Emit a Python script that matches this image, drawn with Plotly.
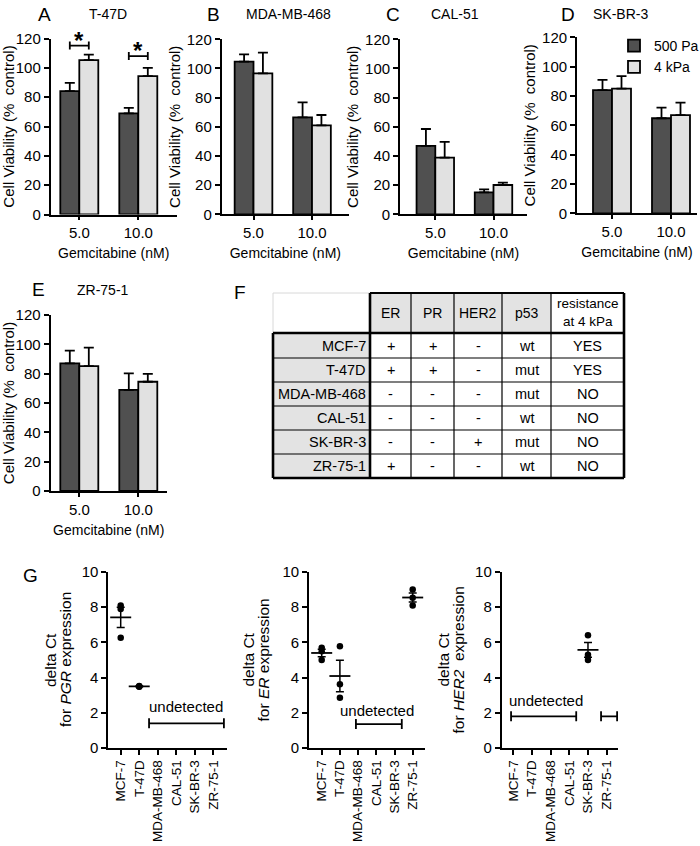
import plotly.graph_objects as go

W, H = 700, 846
FONT = "Liberation Sans, Arial, sans-serif"

# ---------------- data: panels A-E (cell viability, % control) ----------------
doses = ["5.0", "10.0"]
series_names = ["500 Pa", "4 kPa"]

t47d_500 = [84.1, 68.9]
t47d_500_err = [5.7, 3.8]
t47d_4k = [105.2, 94.3]
t47d_4k_err = [3.8, 5.7]

mda_500 = [104.7, 66.5]
mda_500_err = [5.0, 10.3]
mda_4k = [96.7, 61.0]
mda_4k_err = [14.2, 7.1]

cal_500 = [46.9, 15.1]
cal_500_err = [11.6, 2.0]
cal_4k = [38.9, 20.1]
cal_4k_err = [10.7, 1.6]

skbr_500 = [84.0, 64.8]
skbr_500_err = [7.0, 7.2]
skbr_4k = [85.0, 67.0]
skbr_4k_err = [8.5, 8.5]

zr_500 = [87.0, 68.9]
zr_500_err = [8.7, 11.3]
zr_4k = [85.2, 74.5]
zr_4k_err = [12.5, 5.3]

# significance in T-47D
sig_dose_idx = [0, 1]
sig_level = [115.2, 108.0]
sig_text = ["*", "*"]

# ---------------- data: panel F (table) ----------------
table_header = ["", "ER", "PR", "HER2", "p53", "resistance<br>at 4 kPa"]
table_lines = ["MCF-7", "T-47D", "MDA-MB-468", "CAL-51", "SK-BR-3", "ZR-75-1"]
table_er = ["+", "+", "-", "-", "-", "+"]
table_pr = ["+", "+", "-", "-", "-", "-"]
table_her2 = ["-", "-", "-", "-", "+", "-"]
table_p53 = ["wt", "mut", "mut", "wt", "mut", "wt"]
table_res = ["YES", "YES", "NO", "NO", "NO", "NO"]

# ---------------- data: panel G (delta Ct) ----------------
cell_lines = ["MCF-7", "T-47D", "MDA-MB-468", "CAL-51", "SK-BR-3", "ZR-75-1"]

pgr_lines = ["MCF-7", "T-47D"]
pgr_values = [[8.1, 7.9, 6.27], [3.48, 3.5, 3.52]]
pgr_mean = [7.42, 3.5]
pgr_sem = [0.58, 0.02]
pgr_undetected = [[1.53, 5.57]]
pgr_undetected_level = 1.4

er_lines = ["MCF-7", "T-47D", "ZR-75-1"]
er_values = [[5.7, 5.5, 5.0], [5.78, 3.62, 2.86], [9.0, 8.54, 8.1]]
er_mean = [5.4, 4.09, 8.55]
er_sem = [0.21, 0.9, 0.26]
er_undetected = [[1.88, 4.40]]
er_undetected_level = 1.36

her2_lines = ["SK-BR-3"]
her2_values = [[6.4, 5.3, 5.0]]
her2_mean = [5.57]
her2_sem = [0.42]
her2_undetected = [[-0.12, 3.37], [4.70, 5.56]]
her2_undetected_level = 1.8

# ---------------- figure ----------------
DARK = "#505050"
LIGHT = "#e1e1e1"

fig = go.Figure()
layout = dict(
    width=W, height=H, autosize=False,
    margin=dict(l=0, r=0, t=0, b=0, autoexpand=False),
    paper_bgcolor="white", plot_bgcolor="white",
    font=dict(family=FONT, color="black", size=14),
    barmode="group", bargap=0.356, bargroupgap=0,
    showlegend=True,
    legend=dict(x=614 / W, y=1 - 30 / H, xanchor="left", yanchor="top",
                bgcolor="rgba(0,0,0,0)", font=dict(size=14), tracegroupgap=0,
                itemwidth=30),
)
annotations = []
shapes = []


def px_x(p):
    return p / W


def px_y(p):
    return 1 - p / H


bar_panels = [
    (1, "A", "T-47D", t47d_500, t47d_500_err, t47d_4k, t47d_4k_err, (50.7, 176.7), (38.5, 214.5), (79.3, 138.3)),
    (2, "B", "MDA-MB-468", mda_500, mda_500_err, mda_4k, mda_4k_err, (221.7, 349), (39.3, 214.3), (253.5, 312.0)),
    (3, "C", "CAL-51", cal_500, cal_500_err, cal_4k, cal_4k_err, (400, 527), (39.3, 214.3), (435.3, 493.5)),
    (4, "D", "SK-BR-3", skbr_500, skbr_500_err, skbr_4k, skbr_4k_err, (577, 697), (37.3, 213.3), (612.0, 671.0)),
    (5, "E", "ZR-75-1", zr_500, zr_500_err, zr_4k, zr_4k_err, (50.5, 167), (315, 491), (79.3, 138.3)),
]
letter_pos = {"A": (45, 14, 108, 14), "B": (213, 14, 288, 14), "C": (393, 14, 455, 14),
              "D": (568, 14, 620, 14), "E": (38, 290, 103, 290)}

for n, letter, name, d5, e5, d4, e4, xpx, ypx, cpx in bar_panels:
    unit = cpx[1] - cpx[0]
    xr = [(xpx[0] - cpx[0]) / unit, (xpx[1] - cpx[0]) / unit]
    xa = "x" if n == 1 else f"x{n}"
    ya = "y" if n == 1 else f"y{n}"
    for vals, errs, col, sname in ((d5, e5, DARK, series_names[0]), (d4, e4, LIGHT, series_names[1])):
        fig.add_trace(go.Bar(
            x=[0, 1], y=vals, name=sname, xaxis=xa, yaxis=ya,
            marker=dict(color=col, line=dict(color="black", width=1.8)),
            error_y=dict(type="data", array=errs, arrayminus=[0, 0], symmetric=False,
                         color="black", thickness=1.8, width=5),
            showlegend=(n == 4), legendgroup=sname, hoverinfo="skip",
        ))
    layout[f"xaxis{n}"] = dict(
        domain=[px_x(xpx[0]), px_x(xpx[1])], range=xr, anchor=ya, automargin=False,
        tickvals=[0, 1], ticktext=doses, ticks="outside", ticklen=4, tickwidth=1.5,
        tickcolor="black", showline=True, linewidth=1.8, linecolor="black",
        showgrid=False, zeroline=False, tickfont=dict(size=15),
        title=dict(text="Gemcitabine (nM)", font=dict(size=14), standoff=8),
    )
    layout[f"yaxis{n}"] = dict(
        domain=[px_y(ypx[1]), px_y(ypx[0])], range=[0, 120], anchor=xa, automargin=False,
        tickvals=[0, 20, 40, 60, 80, 100, 120], ticks="outside", ticklen=5, tickwidth=1.5,
        tickcolor="black", showline=True, linewidth=1.8, linecolor="black",
        showgrid=False, zeroline=False, tickfont=dict(size=15),
        title=dict(text="Cell Viability (%&nbsp; control)", font=dict(size=15), standoff=3),
    )
    lx, ly, nx, ny = letter_pos[letter]
    annotations.append(dict(text=letter, x=px_x(lx), y=px_y(ly), xref="paper", yref="paper",
                            showarrow=False, font=dict(size=19), xanchor="center", yanchor="middle"))
    annotations.append(dict(text=name, x=px_x(nx), y=px_y(ny), xref="paper", yref="paper",
                            showarrow=False, font=dict(size=14), xanchor="center", yanchor="middle"))

# significance brackets (T-47D)
half = (1 - 0.356) / 4
fig.add_trace(go.Scatter(
    x=sig_dose_idx, y=sig_level, mode="markers", xaxis="x", yaxis="y",
    marker=dict(size=1, color="rgba(0,0,0,0)"),
    error_x=dict(type="constant", value=half, color="black", thickness=1.8, width=4),
    showlegend=False, hoverinfo="skip",
))
for xi, yv, t in zip(sig_dose_idx, sig_level, sig_text):
    annotations.append(dict(text=f"<b>{t}</b>", x=xi, y=yv, xref="x", yref="y",
                            showarrow=False, font=dict(size=24), yanchor="bottom", yshift=-10))

# ---------------- panel F table ----------------
col_px = [273, 370, 411, 454, 502, 551, 624]
row_px = [293, 333, 358, 382, 406, 430, 454, 478]
GREY = "#e3e3e3"
for c in range(6):
    fill = GREY if 1 <= c <= 4 else "white"
    shapes.append(dict(type="rect", xref="paper", yref="paper",
                       x0=px_x(col_px[c]), x1=px_x(col_px[c + 1]),
                       y0=px_y(row_px[1]), y1=px_y(row_px[0]),
                       fillcolor=fill, line=dict(width=0), layer="below"))
shapes.append(dict(type="rect", xref="paper", yref="paper",
                   x0=px_x(col_px[0]), x1=px_x(col_px[1]),
                   y0=px_y(row_px[-1]), y1=px_y(row_px[1]),
                   fillcolor=GREY, line=dict(width=0), layer="below"))


def hline(y, x0, x1, w, color="black"):
    shapes.append(dict(type="line", xref="paper", yref="paper", x0=px_x(x0), x1=px_x(x1),
                       y0=px_y(y), y1=px_y(y), line=dict(color=color, width=w)))


def vline(x, y0, y1, w, color="black"):
    shapes.append(dict(type="line", xref="paper", yref="paper", x0=px_x(x), x1=px_x(x),
                       y0=px_y(y0), y1=px_y(y1), line=dict(color=color, width=w)))


hline(row_px[0], col_px[0], col_px[1], 1, "#d8d8d8")
vline(col_px[0], row_px[0], row_px[1], 1, "#d8d8d8")
for r in range(2, 7):
    hline(row_px[r], col_px[0], col_px[-1], 1.2)
for c in range(2, 6):
    vline(col_px[c], row_px[0], row_px[-1], 1.2)
hline(row_px[0], col_px[1], col_px[-1], 1.8)
hline(row_px[1], col_px[0], col_px[-1], 2.6)
hline(row_px[-1], col_px[0], col_px[-1], 2.6)
vline(col_px[0], row_px[1], row_px[-1], 2.6)
vline(col_px[1], row_px[0], row_px[-1], 2.6)
vline(col_px[-1], row_px[0], row_px[-1], 2.6)

for c in range(1, 6):
    cx = (col_px[c] + col_px[c + 1]) / 2
    cy = (row_px[0] + row_px[1]) / 2
    annotations.append(dict(text=table_header[c], x=px_x(cx), y=px_y(cy), xref="paper", yref="paper",
                            showarrow=False, font=dict(size=14 if c < 5 else 13.5),
                            xanchor="center", yanchor="middle"))
table_cols = [table_er, table_pr, table_her2, table_p53, table_res]
for r, line in enumerate(table_lines):
    cy = (row_px[r + 1] + row_px[r + 2]) / 2
    annotations.append(dict(text=line, x=px_x(col_px[1] - 2), y=px_y(cy), xref="paper", yref="paper",
                            showarrow=False, font=dict(size=14.5), xanchor="right", yanchor="middle"))
    for c, colvals in enumerate(table_cols):
        cx = (col_px[c + 1] + col_px[c + 2]) / 2
        annotations.append(dict(text=colvals[r], x=px_x(cx), y=px_y(cy), xref="paper", yref="paper",
                                showarrow=False, font=dict(size=14.5), xanchor="center", yanchor="middle"))
annotations.append(dict(text="F", x=px_x(240), y=px_y(292), xref="paper", yref="paper",
                        showarrow=False, font=dict(size=19), xanchor="center", yanchor="middle"))

# ---------------- panel G ----------------
g_panels = [
    (6, "PGR", "", pgr_lines, pgr_values, pgr_mean, pgr_sem, pgr_undetected, pgr_undetected_level,
     (108.3, 226.7), 120.7, 18.53, (3.53, 1.76), 57.5),
    (7, "ER", "", er_lines, er_values, er_mean, er_sem, er_undetected, er_undetected_level,
     (309, 425), 321.7, 18.2, (3.06, 1.53), 255),
    (8, "HER2", "&nbsp;", her2_lines, her2_values, her2_mean, her2_sem, her2_undetected, her2_undetected_level,
     (501.7, 618.3), 513.3, 18.67, (1.76, 2.1), 450),
]
for n, gene, sp, lines, vals, means, sems, undet, level, xpx, i0, step, tc, title_x in g_panels:
    xa, ya = f"x{n}", f"y{n}"
    xr = [(xpx[0] - i0) / step, (xpx[1] - i0) / step]
    for line, v in zip(lines, vals):
        xi = cell_lines.index(line)
        fig.add_trace(go.Scatter(
            x=[xi] * len(v), y=v, mode="markers", xaxis=xa, yaxis=ya,
            marker=dict(size=6.5, color="black"), showlegend=False, hoverinfo="skip"))
    fig.add_trace(go.Scatter(
        x=[cell_lines.index(l) for l in lines], y=means, mode="markers", xaxis=xa, yaxis=ya,
        marker=dict(symbol="line-ew", size=15, line=dict(color="black", width=1.8)),
        error_y=dict(type="data", array=sems, color="black", thickness=1.5, width=4),
        showlegend=False, hoverinfo="skip"))
    fig.add_trace(go.Scatter(
        x=[(a + b) / 2 for a, b in undet], y=[level] * len(undet), mode="markers",
        xaxis=xa, yaxis=ya, marker=dict(size=1, color="rgba(0,0,0,0)"),
        error_x=dict(type="data", array=[(b - a) / 2 for a, b in undet], color="black",
                     thickness=1.8, width=5),
        showlegend=False, hoverinfo="skip"))
    annotations.append(dict(text="undetected", x=tc[0], y=tc[1], xref=xa, yref=ya, showarrow=False,
                            font=dict(size=15), xanchor="center", yanchor="bottom"))
    # y-axis title, two rotated lines
    for dx, txt in ((-7.5, "delta Ct"), (7.5, f"for <i>{gene}</i>{sp} expression")):
        annotations.append(dict(text=txt, x=px_x(title_x + dx), y=px_y(660), xref="paper", yref="paper",
                                textangle=-90, showarrow=False, font=dict(size=15.5),
                                xanchor="center", yanchor="middle"))
    layout[f"xaxis{n}"] = dict(
        domain=[px_x(xpx[0]), px_x(xpx[1])], range=xr, anchor=ya, automargin=False,
        tickvals=list(range(len(cell_lines))), ticktext=cell_lines, tickangle=-90,
        ticks="outside", ticklen=5, tickwidth=1.5, tickcolor="black",
        showline=True, linewidth=1.8, linecolor="black", showgrid=False, zeroline=False,
        tickfont=dict(size=13.5),
    )
    layout[f"yaxis{n}"] = dict(
        domain=[px_y(748), px_y(572)], range=[0, 10], anchor=xa, automargin=False,
        tickvals=[0, 2, 4, 6, 8, 10], ticks="outside", ticklen=5, tickwidth=1.5, tickcolor="black",
        showline=True, linewidth=1.8, linecolor="black", showgrid=False, zeroline=False,
        tickfont=dict(size=15),
    )
annotations.append(dict(text="G", x=px_x(30), y=px_y(575), xref="paper", yref="paper",
                        showarrow=False, font=dict(size=19), xanchor="center", yanchor="middle"))

layout["annotations"] = annotations
layout["shapes"] = shapes
fig.update_layout(**layout)
fig.write_html("out.html", config={"displayModeBar": False},
               post_script="document.body.style.margin='0px';document.body.style.overflow='hidden';")
